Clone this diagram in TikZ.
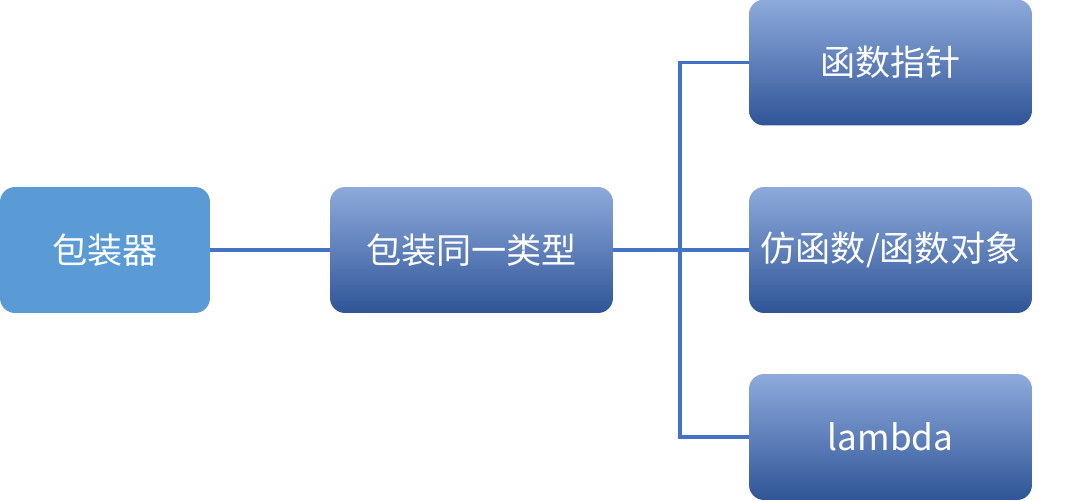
\documentclass[tikz,border=0pt]{standalone}
\usepackage{fontspec}
\setmainfont{Noto Sans CJK SC}
\begin{document}
\begin{tikzpicture}[x=0.02cm,y=-0.02cm,
  box/.style={rounded corners=0.3cm,minimum width=5.66cm,minimum height=2.52cm,text=white,font=\fontsize{20}{24}\selectfont,top color=blue1,bottom color=blue2,draw=none,inner sep=0},
  flat/.style={rounded corners=0.3cm,minimum width=4.2cm,minimum height=2.52cm,text=white,font=\fontsize{20}{24}\selectfont,fill=flatblue,draw=none,inner sep=0},
  link/.style={draw=lineblue,line width=2.2pt}]
\definecolor{blue1}{HTML}{8EAADC}
\definecolor{blue2}{HTML}{2F5597}
\definecolor{flatblue}{HTML}{5B9BD5}
\definecolor{lineblue}{HTML}{4472C4}
\useasboundingbox (0,0) rectangle (1091,500);
\node[flat] (a) at (105,250) {包装器};
\node[box] (b) at (471.5,250) {包装同一类型};
\node[box] (c) at (890.5,62.5) {函数指针};
\node[box] (d) at (890.5,250) {仿函数/函数对象};
\node[box] (e) at (890.5,437) {lambda};
\coordinate (j) at (680,250);
\draw[link] (a) -- (b);
\draw[link] (b) -- (d);
\draw[link] (c.west) -| (j) |- (e.west);
\end{tikzpicture}
\end{document}
